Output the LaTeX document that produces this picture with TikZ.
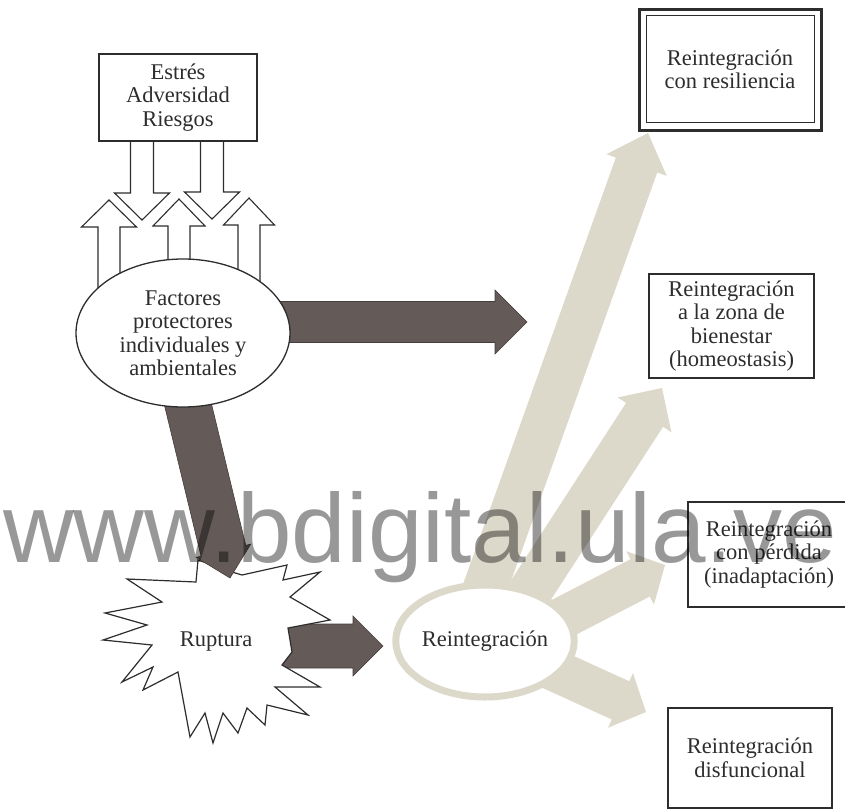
\documentclass[tikz,border=0pt]{standalone}
\usepackage{fontspec}
\setmainfont{Liberation Serif}
\newfontfamily\wmfont{Liberation Sans}
\usetikzlibrary{calc,shapes.geometric}
\definecolor{darkfill}{RGB}{100,90,88}
\definecolor{darkedge}{RGB}{70,62,60}
\definecolor{lightfill}{RGB}{221,217,202}
\definecolor{inkc}{RGB}{45,45,45}
\definecolor{wmc}{RGB}{152,152,152}
% #1 style, #2 from, #3 tip, #4 half shaft, #5 half head, #6 head length
\newcommand{\blockarrow}[6]{%
  \coordinate (ba-h) at ($(#3)!#6!(#2)$);
  \draw[#1] ($(#2)!#4!90:(#3)$) -- ($(ba-h)!#4!90:(#3)$) -- ($(ba-h)!#5!90:(#3)$)
    -- (#3) -- ($(ba-h)!#5!-90:(#3)$) -- ($(ba-h)!#4!-90:(#3)$)
    -- ($(#2)!#4!-90:(#3)$) -- cycle;}
\begin{document}
\begin{tikzpicture}[x=1pt,y=-1pt,
  txt/.style={font=\fontsize{22.5}{23.5}\selectfont, text=inkc, align=center},
  plainbox/.style={draw=inkc, line width=1.4pt, fill=white, inner sep=0pt, txt},
  hollow/.style={draw=inkc, line width=1.1pt, fill=white, line join=miter},
  darkarr/.style={fill=darkfill, draw=darkedge, line width=0.6pt, line join=miter},
  lightarr/.style={fill=lightfill, draw=none},
  burst/.style={draw=inkc, line width=1.2pt, fill=white, line join=miter}]
\useasboundingbox[fill=white] (0,0) rectangle (845,811);

% ---------- outcome boxes ----------
\node[plainbox, line width=3pt, minimum width=182pt, minimum height=121pt] (resil) at (730,69.5) {Reintegración\\con resiliencia};
\draw[draw=inkc, line width=1.1pt] ($(resil.north west)+(9,8)$) rectangle ($(resil.south east)+(-8,-9)$);
\node[plainbox, minimum width=165pt, minimum height=104pt] (homeo) at (731.5,326) {Reintegración\\a la zona de\\bienestar\\(homeostasis)};
\node[plainbox, minimum width=162pt, minimum height=105pt] (perd) at (769,554.5) {Reintegración\\con pérdida\\(inadaptación)};
\node[plainbox, minimum width=164pt, minimum height=100pt] (disf) at (750,758) {Reintegración\\disfuncional};

% ---------- light arrows out of Reintegración ----------
\coordinate (l1s) at (470,630); \coordinate (l1t) at (648,133);
\coordinate (l2s) at (505,630); \coordinate (l2t) at (662,388);
\coordinate (l3s) at (520,640); \coordinate (l3t) at (665,565);
\coordinate (l4s) at (510,650); \coordinate (l4t) at (646,712);
\blockarrow{lightarr}{l1s}{l1t}{22pt}{32pt}{34pt}
\blockarrow{lightarr}{l2s}{l2t}{22pt}{32pt}{32pt}
\blockarrow{lightarr}{l3s}{l3t}{21pt}{30pt}{28pt}
\blockarrow{lightarr}{l4s}{l4t}{21pt}{30pt}{28pt}
\node[ellipse, draw=lightfill, line width=7pt, fill=white, minimum width=160pt, minimum height=112pt, inner sep=0pt, txt] (reint) at (485,641) {Reintegración};

% ---------- Ruptura ----------
\coordinate (r3s) at (250,646); \coordinate (r3t) at (383,646);
\blockarrow{darkarr}{r3s}{r3t}{22pt}{30pt}{30pt}
\draw[burst] (198,560) -- (196,582) -- (127,579) -- (162,602) -- (105,613) -- (147,625)
  -- (103,640) -- (152,645) -- (122,682) -- (153,667) -- (143,690) -- (178,672)
  -- (190,737) -- (205,713) -- (213,743) -- (223,713) -- (238,733) -- (247,708)
  -- (265,725) -- (267,705) -- (308,715) -- (275,687) -- (320,687) -- (282,665)
  -- (292,652) -- (288,628) -- (330,620) -- (290,597) -- (320,572) -- (283,580)
  -- (287,565) -- (242,575) -- (232,572) -- cycle;
\node[txt] (rupt) at (216,642) {Ruptura};

% ---------- dark arrows from Factores ----------
\coordinate (d2s) at (182,380); \coordinate (d2t) at (230,578);
\blockarrow{darkarr}{d2s}{d2t}{23pt}{28pt}{28pt}
\coordinate (d1s) at (250,322); \coordinate (d1t) at (527,322);
\blockarrow{darkarr}{d1s}{d1t}{20.5pt}{32pt}{32pt}

% ---------- hollow arrows ----------
\coordinate (u1s) at (109,315); \coordinate (u1t) at (109,200);
\coordinate (u2s) at (179,300); \coordinate (u2t) at (179,199);
\coordinate (u3s) at (249,315); \coordinate (u3t) at (249,198);
\blockarrow{hollow}{u1s}{u1t}{11pt}{27.5pt}{27pt}
\blockarrow{hollow}{u2s}{u2t}{11pt}{26pt}{27pt}
\blockarrow{hollow}{u3s}{u3t}{11pt}{25.5pt}{27pt}
\coordinate (w1s) at (142,120); \coordinate (w1t) at (142,220);
\coordinate (w2s) at (212,120); \coordinate (w2t) at (212,219);
\blockarrow{hollow}{w1s}{w1t}{11.5pt}{27.5pt}{27pt}
\blockarrow{hollow}{w2s}{w2t}{11.5pt}{27.5pt}{27pt}

\node[plainbox, minimum width=158pt, minimum height=87pt] (estres) at (178,97.5) {Estrés\\Adversidad\\Riesgos};
\node[ellipse, draw=inkc, line width=1.3pt, fill=white, minimum width=214pt, minimum height=148pt, inner sep=0pt, txt] (fact) at (183,333) {Factores\\protectores\\individuales y\\ambientales};

% ---------- watermark ----------
\begin{scope}[blend mode=multiply]
\node[anchor=base west, inner sep=0pt, text=wmc, font=\wmfont\fontsize{98}{98}\selectfont] (wm) at (3,562) {www.bdigital.ula.ve};
\end{scope}
\end{tikzpicture}
\end{document}
